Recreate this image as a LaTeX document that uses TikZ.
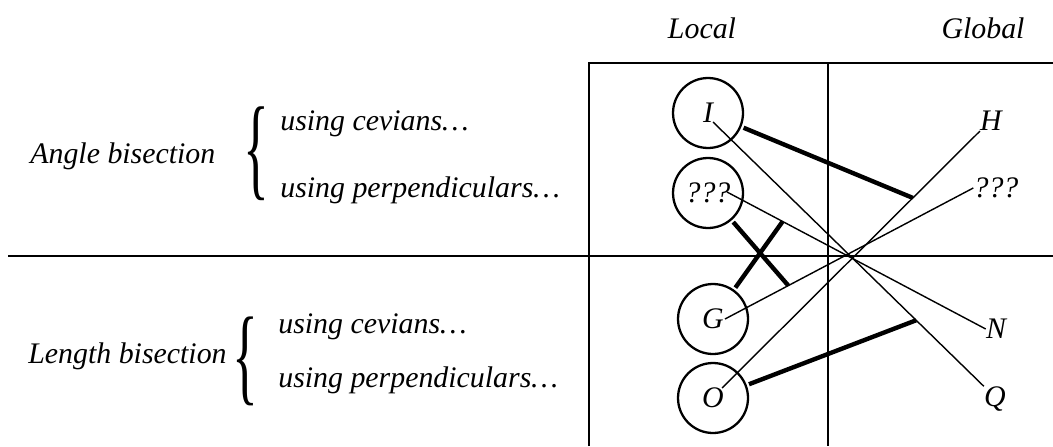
\documentclass[tikz,border=0pt]{standalone}
\usepackage{graphicx}
\usepackage{fontspec}
\setmainfont{Liberation Serif}
\usetikzlibrary{calc}

\begin{document}
\begin{tikzpicture}[x=0.02cm,y=-0.02cm,
    txt/.style={font=\fontsize{17}{20}\selectfont\itshape},
    lbl/.style={txt,inner sep=0pt},
    brace/.style={inner sep=0pt,font=\fontsize{17}{20}\selectfont\upshape},
    frame/.style={line width=1.5pt},
    ray/.style={line width=0.8pt},
    tie/.style={line width=2.5pt},
    locnode/.style={circle,draw,txt,line width=1.3pt,minimum size=1.4cm,inner sep=0pt,outer sep=2pt}]
        \useasboundingbox (0,0) rectangle (1053,446);

        % table lines
        \draw[frame] (589,446) -- (589,63) -- (1053,63);
        \draw[frame] (828,63) -- (828,446);
        \draw[line width=1.7pt] (8,256) -- (1053,256);

        % headers
        \node[lbl] (hloc) at (702,28) {Local};
        \node[lbl] (hglo) at (983,28) {Global};

        % row labels
        \node[lbl,anchor=base west] (ang) at (30,163) {Angle bisection};
        \node[lbl,anchor=base west] (len) at (28,363) {Length bisection};
        \node[brace] (abr) at (256,154) {\scalebox{1.8}[3.8]{\{}};
        \node[brace] (lbr) at (245,361) {\scalebox{1.8}[3.6]{\{}};
        \node[lbl,anchor=base west] (ac) at (280,130) {using cevians\dots};
        \node[lbl,anchor=base west] (ap) at (280,197) {using perpendiculars\dots};
        \node[lbl,anchor=base west] (lc) at (278,333) {using cevians\dots};
        \node[lbl,anchor=base west] (lp) at (278,387) {using perpendiculars\dots};

        % local centres
        \node[locnode] (lI) at (708,113) {I};
        \node[locnode] (lq) at (708,193) {???};
        \node[locnode] (lG) at (713,319) {G};
        \node[locnode] (lO) at (713,398) {O};

        % global centres
        \node[lbl] (gH) at (991,121) {H};
        \node[lbl] (gq) at (996,188) {???};
        \node[lbl] (gN) at (996,329) {N};
        \node[lbl] (gQ) at (995,399) {Q};

        \coordinate (sI) at (713,122);
        \coordinate (sq) at (727,192);
        \coordinate (sG) at (725,319);
        \coordinate (sO) at (722,388);

        \draw[ray] (sI) -- (gQ.north west);
        \draw[ray] (sq) -- (gN.west);
        \draw[ray] (sG) -- (gq.west);
        \draw[ray] (sO) -- (gH.south west);

        \coordinate (tH) at ($(sO)!0.74!(gH.south west)$);
        \coordinate (tQ) at ($(sI)!0.75!(gQ.north west)$);
        \coordinate (tg) at ($(sG)!0.255!(gq.west)$);
        \coordinate (tN) at ($(sq)!0.215!(gN.west)$);

        \draw[tie] (lI) -- (tH);
        \draw[tie] (lO) -- (tQ);
        \draw[tie] (lq) -- (tg);
        \draw[tie] (lG) -- (tN);
    \end{tikzpicture}
\end{document}
